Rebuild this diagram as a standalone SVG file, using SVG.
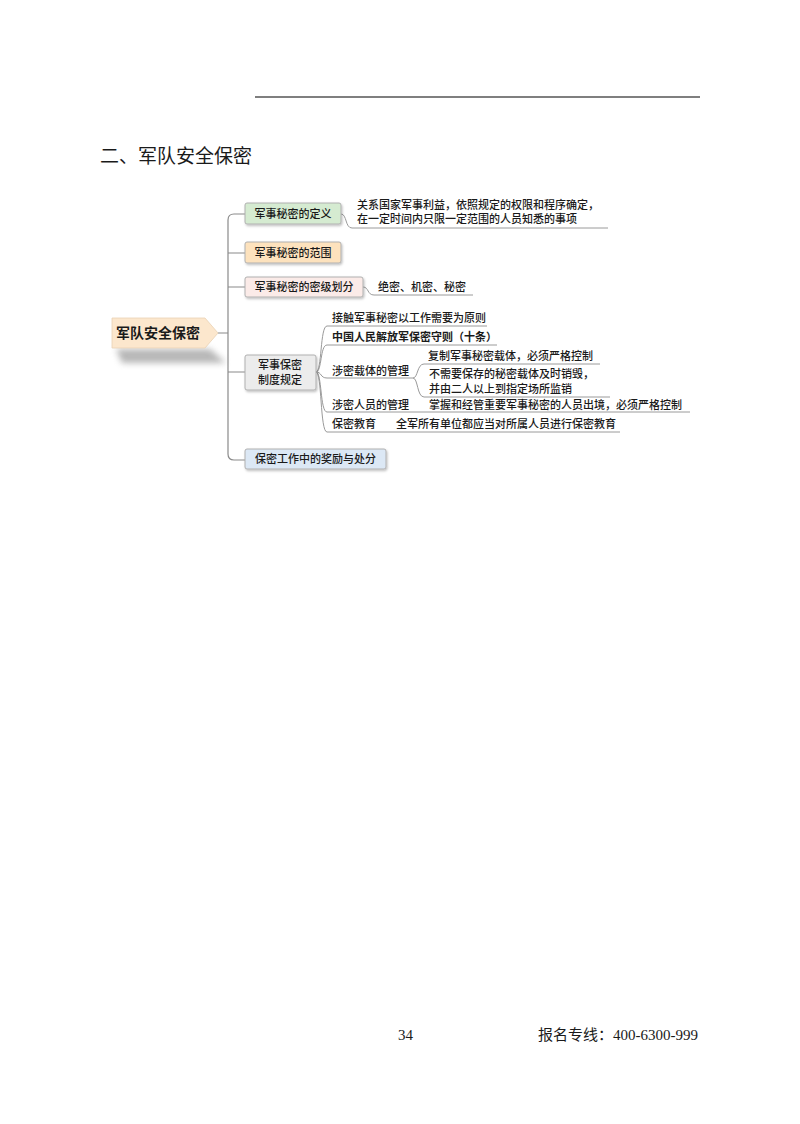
<svg xmlns="http://www.w3.org/2000/svg" width="800" height="1124" viewBox="0 0 800 1124">
<defs>
<filter id="blur" x="-20%" y="-50%" width="140%" height="200%"><feGaussianBlur stdDeviation="3"/></filter>
<filter id="sh" x="-10%" y="-20%" width="130%" height="160%"><feDropShadow dx="1" dy="1.5" stdDeviation="0.8" flood-color="#000" flood-opacity="0.25"/></filter>
</defs>
<style>
text{font-family:"Noto Sans CJK SC","Noto Sans",sans-serif;fill:#1a1a1a;}
.t{font-size:11px;font-weight:500;}
.n{font-size:11px;font-weight:500;text-anchor:middle;}
.b{font-weight:bold;}
.box{stroke:#b0b0b0;stroke-width:1;filter:url(#sh);}
.c{fill:none;stroke:#8a8a8a;stroke-width:1.2;}
.u{fill:none;stroke:#9a9a9a;stroke-width:1;}
.serif{font-family:"Liberation Serif","Noto Sans CJK SC",serif;}
</style>
<rect width="800" height="1124" fill="#fff"/>
<line x1="255" y1="97" x2="700" y2="97" stroke="#555" stroke-width="1.3"/>
<text x="100" y="163" font-size="19">二、军队安全保密</text>

<g id="connectors">
<path class="c" d="M218,333 H228 M245,214 H234 Q228,214 228,220 V454 Q228,460 234,460 H245 M228,253 H245 M228,287 H245 M228,372 H245"/>
<path class="u" d="M341,214 C347,214 345,228 352,228 H608"/>
<path class="u" d="M363,287 C369,287 367,295 374,295 H473"/>
<path class="u" d="M316,372 C322,372 320,326 327,326 H487"/>
<path class="u" d="M316,372 C322,372 320,345 327,345 H497"/>
<path class="u" d="M316,372 C322,372 320,378 327,378 H413"/>
<path class="u" d="M316,372 C322,372 320,412 327,412 H690"/>
<path class="u" d="M316,372 C322,372 320,432 327,432 H620"/>
<path class="u" d="M413,378 C418,378 417,364 424,364 H600"/>
<path class="u" d="M413,378 C418,378 417,397 424,397 H610"/>
</g>

<g id="root">
<polygon points="116,349 210,349 226,363 122,363" fill="#888" opacity="0.6" filter="url(#blur)"/>
<polygon points="112,318 205,318 218,333 205,348 112,348" fill="#fce7cd" stroke="#ead2b4" stroke-width="0.8"/>
<text x="158" y="338" font-size="14" font-weight="bold" text-anchor="middle">军队安全保密</text>
</g>

<g id="n1">
<rect class="box" x="245" y="203" width="96" height="21" rx="2" fill="#d5ebd1"/>
<text class="n" x="293" y="218">军事秘密的定义</text>
</g>
<g id="n1-label">
<text class="t" x="357" y="209">关系国家军事利益，依照规定的权限和程序确定，</text>
<text class="t" x="357" y="223">在一定时间内只限一定范围的人员知悉的事项</text>
</g>

<g id="n2">
<rect class="box" x="245" y="242" width="96" height="21" rx="2" fill="#fde2bd"/>
<text class="n" x="293" y="257">军事秘密的范围</text>
</g>

<g id="n3">
<rect class="box" x="245" y="277" width="118" height="20" rx="2" fill="#fbebe8"/>
<text class="n" x="304" y="291">军事秘密的密级划分</text>
</g>
<g id="n3-label">
<text class="t" x="378" y="291">绝密、机密、秘密</text>
</g>

<g id="n4">
<rect class="box" x="245" y="355" width="71" height="35" rx="2" fill="#ececec"/>
<text class="n" x="280" y="369">军事保密</text>
<text class="n" x="280" y="384">制度规定</text>
</g>
<g id="n4-1"><text class="t" x="332" y="322">接触军事秘密以工作需要为原则</text></g>
<g id="n4-2"><text class="t b" x="332" y="341">中国人民解放军保密守则（十条）</text></g>
<g id="n4-3"><text class="t" x="332" y="375">涉密载体的管理</text></g>
<g id="n4-3-1"><text class="t" x="428" y="360">复制军事秘密载体，必须严格控制</text></g>
<g id="n4-3-2">
<text class="t" x="429" y="378">不需要保存的秘密载体及时销毁，</text>
<text class="t" x="429" y="393">并由二人以上到指定场所监销</text>
</g>
<g id="n4-4"><text class="t" x="332" y="409">涉密人员的管理</text></g>
<g id="n4-4-1"><text class="t" x="429" y="409">掌握和经管重要军事秘密的人员出境，必须严格控制</text></g>
<g id="n4-5"><text class="t" x="332" y="428">保密教育</text></g>
<g id="n4-5-1"><text class="t" x="396" y="428">全军所有单位都应当对所属人员进行保密教育</text></g>

<g id="n5">
<rect class="box" x="245" y="449" width="141" height="20" rx="2" fill="#dce8f5"/>
<text class="n" x="315.5" y="463">保密工作中的奖励与处分</text>
</g>

<text class="serif" x="398" y="1040" font-size="15">34</text>
<text x="538" y="1040" font-size="15"><tspan>报名专线：</tspan><tspan class="serif" style="font-family:'Liberation Serif',serif">400-6300-999</tspan></text>
</svg>
